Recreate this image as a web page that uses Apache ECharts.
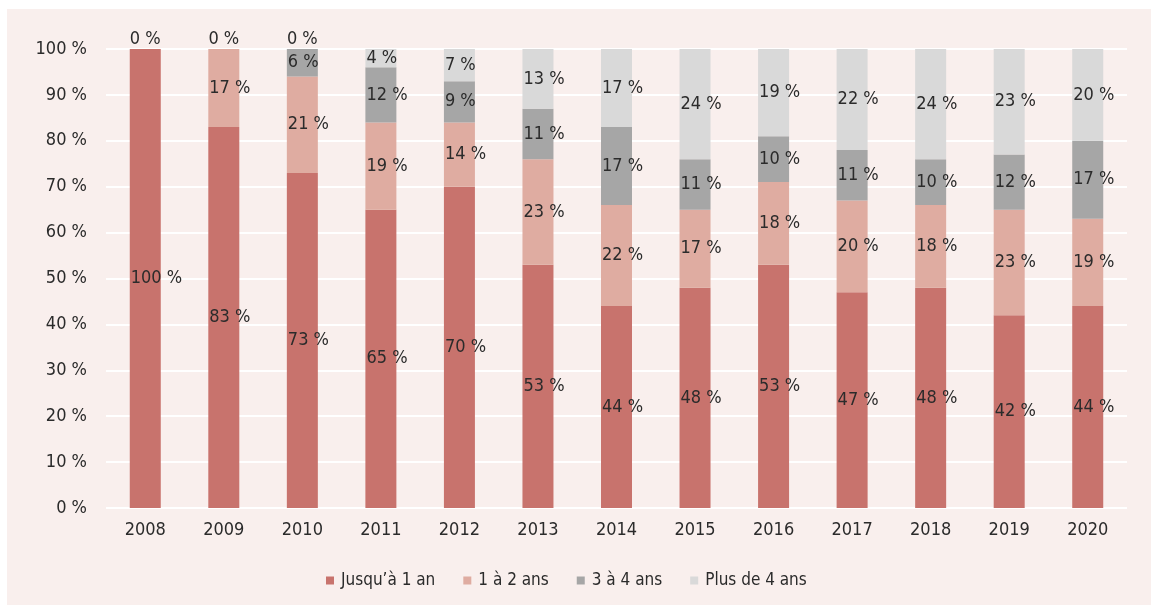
<!DOCTYPE html>
<html>
<head>
<meta charset="utf-8">
<script src="https://cdn.jsdelivr.net/npm/echarts@6/dist/echarts.min.js"></script>
<style>
  html, body { margin: 0; padding: 0; background: #ffffff; }
  #panel { position: absolute; left: 7px; top: 9px; right: 0; bottom: 0; background: #f9efed; }
  #chart { position: absolute; left: 0; top: 0; width: 1151px; height: 605px; }
</style>
</head>
<body>
<div id="panel"></div>
<div id="chart"></div>
<script>
// Years and share of each duration class (percent)
const years = ['2008', '2009', '2010', '2011', '2012', '2013', '2014', '2015', '2016', '2017', '2018', '2019', '2020'];
const upTo1Year = [100, 83, 73, 65, 70, 53, 44, 48, 53, 47, 48, 42, 44];
const oneToTwoYears = [0, 17, 21, 19, 14, 23, 22, 17, 18, 20, 18, 23, 19];
const threeToFourYears = [0, 0, 6, 12, 9, 11, 17, 11, 10, 11, 10, 12, 17];
const moreThan4Years = [0, 0, 0, 4, 7, 13, 17, 24, 19, 22, 24, 23, 20];

const seriesNames = ['Jusqu’à 1 an', '1 à 2 ans', '3 à 4 ans', 'Plus de 4 ans'];
const seriesValues = [upTo1Year, oneToTwoYears, threeToFourYears, moreThan4Years];
const seriesColors = ['#c8736d', '#dfaca1', '#a6a6a6', '#d9d9d9'];

const FONT = "'DejaVu Sans Condensed', 'Liberation Sans Narrow', 'Noto Sans', sans-serif";
const TEXT = '#2b2b2b';

const chart = echarts.init(document.getElementById('chart'), null, { renderer: 'canvas' });

const series = seriesValues.map((values, si) => {
  const isTop = si === seriesValues.length - 1;
  return {
    name: seriesNames[si],
    type: 'bar',
    stack: 'total',
    barWidth: 31,
    itemStyle: { color: seriesColors[si] },
    label: {
      show: true,
      position: 'insideLeft',
      distance: 1,
      formatter: p => p.value + ' %',
      color: TEXT,
      fontFamily: FONT,
      fontSize: 18
    },
    data: values.map(v => {
      if (v !== 0) return v;
      // empty classes: only the topmost one gets a label, above the bar
      return isTop
        ? { value: v, label: { position: 'top', distance: 1 } }
        : { value: v, label: { show: false } };
    })
  };
});

chart.setOption({
  backgroundColor: 'transparent',
  animation: false,
  grid: { left: 106, right: 24, top: 49, bottom: 97 },
  legend: {
    left: 321,
    top: 567,
    itemWidth: 8,
    itemHeight: 8,
    itemGap: 28,
    icon: 'rect',
    textStyle: { color: TEXT, fontFamily: FONT, fontSize: 17, padding: [0, 0, 0, 2] },
    data: seriesNames
  },
  xAxis: {
    type: 'category',
    data: years,
    axisLine: { show: false },
    axisTick: { show: false },
    axisLabel: { color: TEXT, fontFamily: FONT, fontSize: 18, margin: 13 }
  },
  yAxis: {
    type: 'value',
    min: 0,
    max: 100,
    interval: 10,
    axisLine: { show: false },
    axisTick: { show: false },
    splitLine: { lineStyle: { color: '#ffffff', width: 2 } },
    axisLabel: { color: TEXT, fontFamily: FONT, fontSize: 18, margin: 19, formatter: '{value} %' }
  },
  series: series
});
</script>
</body>
</html>
